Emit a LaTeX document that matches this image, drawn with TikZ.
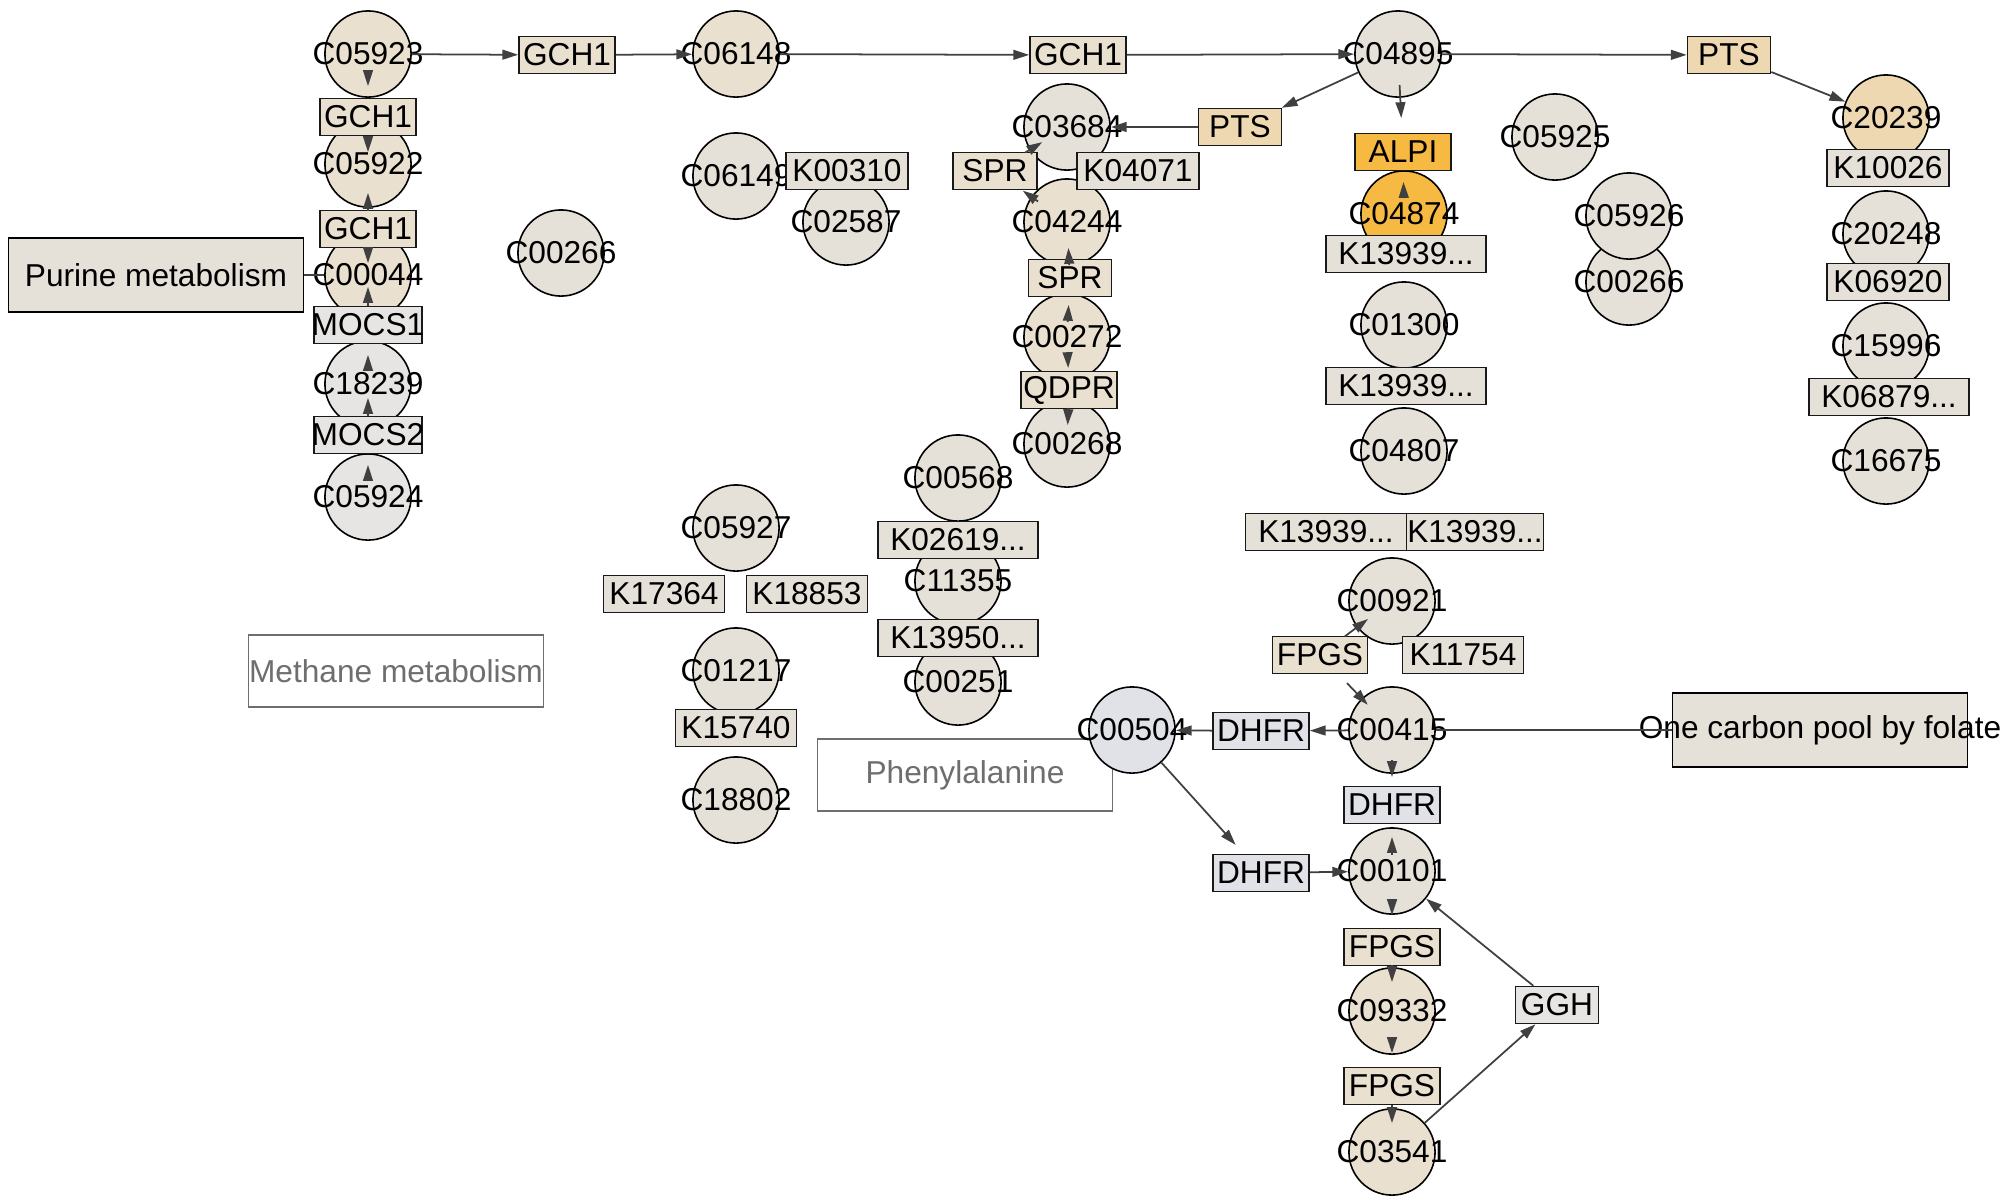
\documentclass[tikz,border=0pt]{standalone}
\usepackage{fontspec}
\setmainfont{Liberation Sans}
\usetikzlibrary{arrows.meta}

\definecolor{edgec}{HTML}{404040}
\definecolor{cpdbg}{HTML}{E5E1D9}
\definecolor{tanbg}{HTML}{E9E0D0}
\definecolor{graybg}{HTML}{E6E5E3}
\definecolor{orangebg}{HTML}{F6B942}
\definecolor{ptsbg}{HTML}{EDD8B2}
\definecolor{bluebg}{HTML}{E1E1E8}
\definecolor{mapgray}{HTML}{6E6E6E}

\newcommand{\ctext}[1]{\makebox[0pt]{#1}}

\tikzset{
  cpd/.style={circle, draw=black, line width=0.45pt, minimum size=24.5pt, inner sep=0pt, fill=#1},
  cpd/.default=cpdbg,
  enz/.style={rectangle, draw=black!90, line width=0.45pt, minimum height=10.5pt, inner sep=0pt, fill=#1},
  enz/.default=cpdbg,
  bw/.style={minimum width=#1*0.2845pt},
  mapbox/.style={rectangle, draw=black, line width=0.45pt, fill=cpdbg, minimum width=83.9pt, minimum height=21pt, inner sep=0pt},
  mapref/.style={mapbox, draw=mapgray, fill=white, text=mapgray, minimum height=20.5pt},
  arr/.style={-{Triangle[length=4.5pt,width=2.8pt]}, draw=edgec, line width=0.5pt},
  link/.style={draw=edgec, line width=0.5pt},
  sh/.style 2 args={shorten <=#1*0.2845pt, shorten >=#2*0.2845pt}
}

\begin{document}
\begin{tikzpicture}[x=0.01cm, y=-0.01cm, font=\fontsize{9}{11}\selectfont]
\useasboundingbox (0,0) rectangle (2008,1199);

% pathway maps
\node[mapbox] (purine) at (156,275) {\ctext{Purine metabolism}};
\node[mapbox] (onecarbon) at (1820,730) {\ctext{One carbon pool by folate}};
\node[mapref] (methane) at (396,671) {\ctext{Methane metabolism}};
\node[mapref] (phe) at (965,775) {\ctext{Phenylalanine}};

% compounds
\node[cpd=tanbg] (c05923) at (368,54) {\ctext{C05923}};
\node[cpd=tanbg] (c05922) at (368,164) {\ctext{C05922}};
\node[cpd=tanbg] (c00044) at (368,275) {\ctext{C00044}};
\node[cpd=graybg] (c18239) at (368,384) {\ctext{C18239}};
\node[cpd=graybg] (c05924) at (368,497) {\ctext{C05924}};
\node[cpd=tanbg] (c06148) at (736,54) {\ctext{C06148}};
\node[cpd] (c06149) at (736,176) {\ctext{C06149}};
\node[cpd] (c02587) at (846,222) {\ctext{C02587}};
\node[cpd] (c00266a) at (561,253) {\ctext{C00266}};
\node[cpd] (c03684) at (1067,127) {\ctext{C03684}};
\node[cpd=tanbg] (c04244) at (1067,222) {\ctext{C04244}};
\node[cpd=tanbg] (c00272) at (1067,337) {\ctext{C00272}};
\node[cpd] (c00268) at (1067,444) {\ctext{C00268}};
\node[cpd] (c04895) at (1398,54) {\ctext{C04895}};
\node[cpd=orangebg] (c04874) at (1404,214) {\ctext{C04874}};
\node[cpd] (c01300) at (1404,325) {\ctext{C01300}};
\node[cpd] (c04807) at (1404,451) {\ctext{C04807}};
\node[cpd] (c05925) at (1555,137) {\ctext{C05925}};
\node[cpd] (c00266b) at (1629,282) {\ctext{C00266}};
\node[cpd] (c05926) at (1629,216) {\ctext{C05926}};
\node[cpd=ptsbg] (c20239) at (1886,118) {\ctext{C20239}};
\node[cpd] (c20248) at (1886,234) {\ctext{C20248}};
\node[cpd] (c15996) at (1886,346) {\ctext{C15996}};
\node[cpd] (c16675) at (1886,461) {\ctext{C16675}};
\node[cpd] (c05927) at (736,528) {\ctext{C05927}};
\node[cpd] (c01217) at (736,671) {\ctext{C01217}};
\node[cpd] (c18802) at (736,800) {\ctext{C18802}};
\node[cpd] (c00568) at (958,478) {\ctext{C00568}};
\node[cpd] (c11355) at (958,581) {\ctext{C11355}};
\node[cpd] (c00251) at (958,682) {\ctext{C00251}};
\node[cpd] (c00921) at (1392,601) {\ctext{C00921}};
\node[cpd] (c00415) at (1392,730) {\ctext{C00415}};
\node[cpd=bluebg] (c00504) at (1132,730) {\ctext{C00504}};
\node[cpd] (c00101) at (1392,871) {\ctext{C00101}};
\node[cpd=tanbg] (c09332) at (1392,1011) {\ctext{C09332}};
\node[cpd=tanbg] (c03541) at (1392,1152) {\ctext{C03541}};

% enzymes and orthologs
\node[enz=tanbg, bw=96] (gch1a) at (368,117) {\ctext{GCH1}};
\node[enz=tanbg, bw=96] (gch1b) at (368,229) {\ctext{GCH1}};
\node[enz=graybg, bw=108] (mocs1) at (368,325) {\ctext{MOCS1}};
\node[enz=graybg, bw=108] (mocs2) at (368,435) {\ctext{MOCS2}};
\node[enz=tanbg, bw=96] (gch1top) at (567,55) {\ctext{GCH1}};
\node[enz=tanbg, bw=96] (gch1mid) at (1078,55) {\ctext{GCH1}};
\node[enz=ptsbg, bw=83] (ptstop) at (1729,55) {\ctext{PTS}};
\node[enz, bw=122] (k00310) at (847,171) {\ctext{K00310}};
\node[enz=ptsbg, bw=83] (pts2) at (1240,127) {\ctext{PTS}};
\node[enz=tanbg, bw=84] (sprl) at (995,171) {\ctext{SPR}};
\node[enz, bw=122] (k04071) at (1138,171) {\ctext{K04071}};
\node[enz=tanbg, bw=83] (sprm) at (1070,278) {\ctext{SPR}};
\node[enz=tanbg, bw=96] (qdpr) at (1069,390) {\ctext{QDPR}};
\node[enz=orangebg, bw=96] (alpi) at (1403,152) {\ctext{ALPI}};
\node[enz, bw=160] (k13939a) at (1406,254) {\ctext{K13939...}};
\node[enz, bw=160] (k13939b) at (1406,386) {\ctext{K13939...}};
\node[enz, bw=161] (k13939c) at (1326,532) {\ctext{K13939...}};
\node[enz, bw=137] (k13939d) at (1475,532) {\ctext{K13939...}};
\node[enz, bw=122] (k10026) at (1888,168) {\ctext{K10026}};
\node[enz, bw=122] (k06920) at (1888,282) {\ctext{K06920}};
\node[enz, bw=160] (k06879) at (1889,397) {\ctext{K06879...}};
\node[enz, bw=121] (k17364) at (664,594) {\ctext{K17364}};
\node[enz, bw=121] (k18853) at (807,594) {\ctext{K18853}};
\node[enz, bw=121] (k15740) at (736,728) {\ctext{K15740}};
\node[enz, bw=160] (k02619) at (958,540) {\ctext{K02619...}};
\node[enz, bw=160] (k13950) at (958,638) {\ctext{K13950...}};
\node[enz=tanbg, bw=95] (fpgsa) at (1320,655) {\ctext{FPGS}};
\node[enz, bw=121] (k11754) at (1463,655) {\ctext{K11754}};
\node[enz=bluebg, bw=96] (dhfra) at (1261,731) {\ctext{DHFR}};
\node[enz=bluebg, bw=96] (dhfrv) at (1392,805) {\ctext{DHFR}};
\node[enz=bluebg, bw=96] (dhfrb) at (1261,873) {\ctext{DHFR}};
\node[enz=tanbg, bw=96] (fpgsb) at (1392,947) {\ctext{FPGS}};
\node[enz=tanbg, bw=96] (fpgsc) at (1392,1086) {\ctext{FPGS}};
\node[enz=graybg, bw=83] (ggh) at (1557,1005) {\ctext{GGH}};

% top row
\draw[arr] (c05923) -- (gch1top);
\draw[arr] (gch1top) -- (c06148);
\draw[arr] (c06148) -- (gch1mid);
\draw[arr] (gch1mid) -- (c04895);
\draw[arr] (c04895) -- (ptstop);
\draw[arr] (ptstop) -- (c20239);
\draw[arr] (c04895) -- (pts2);
\draw[arr] (pts2) -- (c03684);
\draw[arr, sh={31}{34}] (c04895.center) -- (alpi.center);
\draw[arr, sh={16}{30}] (c04874.center) -- (alpi.center);

% GTP column
\draw[link] (purine) -- (c00044);
\draw[arr, sh={16}{31}] (c05923.center) -- (gch1a.center);
\draw[arr, sh={19}{12}] (gch1a.center) -- (c05922.center);
\draw[arr, sh={18}{29}] (gch1b.center) -- (c05922.center);
\draw[arr, sh={18}{12}] (gch1b.center) -- (c00044.center);
\draw[arr, sh={19}{12}] (mocs1.center) -- (c00044.center);
\draw[arr, sh={13}{30}] (c18239.center) -- (mocs1.center);
\draw[arr, sh={19}{14}] (mocs2.center) -- (c18239.center);
\draw[arr, sh={16}{30}] (c05924.center) -- (mocs2.center);

% tetrahydrobiopterin
\draw[arr, sh={35.5}{29}] (sprl.center) -- (c03684.center);
\draw[arr, sh={35.5}{34}] (c04244.center) -- (sprl.center);
\draw[arr, sh={13}{26}] (sprm.center) -- (c04244.center);
\draw[arr, sh={15}{27}] (c00272.center) -- (sprm.center);
\draw[arr, sh={15}{22}] (c00272.center) -- (qdpr.center);
\draw[arr, sh={18}{19}] (qdpr.center) -- (c00268.center);

% folate
\draw[arr, sh={31}{30}] (fpgsa.center) -- (c00921.center);
\draw[arr, sh={39}{35}] (fpgsa.center) -- (c00415.center);
\draw[link] (onecarbon) -- (c00415);
\draw[arr] (c00415) -- (dhfra);
\draw[arr] (dhfra) -- (c00504);
\draw[arr, shorten >=3.4pt] (c00504) -- (dhfrb);
\draw[arr] (dhfrb) -- (c00101);
\draw[arr, sh={30}{28}] (c00415.center) -- (dhfrv.center);
\draw[arr, sh={16}{32}] (c00101.center) -- (dhfrv.center);
\draw[arr, sh={28}{32}] (c00101.center) -- (fpgsb.center);
\draw[arr, sh={18}{29}] (fpgsb.center) -- (c09332.center);
\draw[arr, sh={26}{33}] (c09332.center) -- (fpgsc.center);
\draw[arr, sh={19}{29}] (fpgsc.center) -- (c03541.center);
\draw[arr] (c03541) -- (ggh);
\draw[arr] (ggh) -- (c00101);
\end{tikzpicture}
\end{document}
